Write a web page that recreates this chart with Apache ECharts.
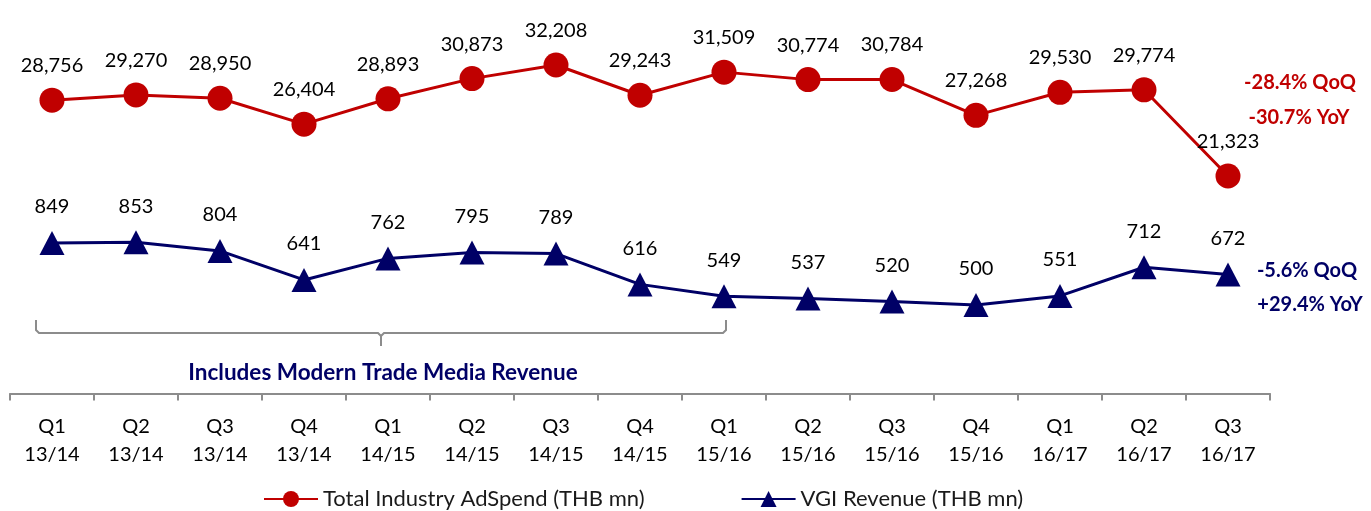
<!DOCTYPE html>
<html>
<head>
<meta charset="utf-8">
<script src="https://cdn.jsdelivr.net/npm/echarts@6/dist/echarts.min.js"></script>
<style>
  html, body { margin: 0; padding: 0; background: #fff; }
  #chart { width: 1371px; height: 511px; }
</style>
</head>
<body>
<div id="chart"></div>
<script>
// quarters (fiscal year)
const quarters = ['Q1', 'Q2', 'Q3', 'Q4', 'Q1', 'Q2', 'Q3', 'Q4', 'Q1', 'Q2', 'Q3', 'Q4', 'Q1', 'Q2', 'Q3']
const fiscalYears = ['13/14', '13/14', '13/14', '13/14', '14/15', '14/15', '14/15', '14/15',
  '15/16', '15/16', '15/16', '15/16', '16/17', '16/17', '16/17']

// THB mn
const adSpend = [28756, 29270, 28950, 26404, 28893, 30873, 32208, 29243, 31509, 30774, 30784, 27268, 29530, 29774, 21323]
const vgiRevenue = [849, 853, 804, 641, 762, 795, 789, 616, 549, 537, 520, 500, 551, 712, 672]

const RED = '#C00000'
const NAVY = '#000066'
const FONT = 'Lato, sans-serif'
const NOTE_FONT = 'bold 20px Lato, sans-serif'

const categories = quarters.map((q, i) => q + '\n' + fiscalYears[i])

const chart = echarts.init(document.getElementById('chart'), null, { renderer: 'canvas' })

const labelStyle = {
  show: true,
  position: 'top',
  color: '#000',
  fontFamily: FONT,
  fontSize: 20,
  formatter: p => p.value.toLocaleString('en-US'),
}

// bracket under the Modern Trade period
const bracketStyle = { stroke: '#8c8c8c', lineWidth: 2, fill: null }

chart.setOption({
  animation: false,
  backgroundColor: '#fff',
  grid: { left: 10, right: 101, top: 20, bottom: 115 },
  legend: {
    top: 488,
    left: 263,
    padding: 0,
    itemGap: 96,
    itemWidth: 54,
    itemHeight: 20,
    textStyle: { color: '#1a1a1a', fontFamily: FONT, fontSize: 22 },
    data: ['Total Industry AdSpend (THB mn)', 'VGI Revenue (THB mn)'],
  },
  xAxis: {
    type: 'category',
    data: categories,
    boundaryGap: true,
    axisLine: { lineStyle: { color: '#8c8c8c', width: 2 } },
    axisTick: { show: true, length: 7, lineStyle: { color: '#8c8c8c', width: 2 } },
    axisLabel: { color: '#000', fontFamily: FONT, fontSize: 20, lineHeight: 28, margin: 17, interval: 0 },
  },
  yAxis: [
    { type: 'value', show: false, min: -252, max: 36621 },
    { type: 'value', show: false, min: -11, max: 2101 },
  ],
  series: [
    {
      name: 'Total Industry AdSpend (THB mn)',
      type: 'line',
      yAxisIndex: 0,
      data: adSpend,
      symbol: 'circle',
      symbolSize: 25,
      lineStyle: { color: RED, width: 3 },
      itemStyle: { color: RED },
      label: { ...labelStyle, distance: 12 },
    },
    {
      name: 'VGI Revenue (THB mn)',
      type: 'line',
      yAxisIndex: 1,
      data: vgiRevenue,
      symbol: 'triangle',
      symbolSize: [25, 24],
      lineStyle: { color: NAVY, width: 3 },
      itemStyle: { color: NAVY },
      label: { ...labelStyle, distance: 14 },
    },
  ],
  graphic: [
    {
      type: 'polyline',
      shape: { points: [[36, 320], [36, 330], [39, 333], [378, 333], [381, 336], [381, 346]] },
      style: bracketStyle,
    },
    {
      type: 'polyline',
      shape: { points: [[381, 336], [384, 333], [723, 333], [726, 330], [726, 320]] },
      style: bracketStyle,
    },
    {
      type: 'text', x: 383, y: 373,
      style: { text: 'Includes Modern Trade Media Revenue', fill: NAVY, font: 'bold 22.5px Lato, sans-serif', align: 'center', verticalAlign: 'middle' },
    },
    {
      type: 'text', x: 1300, y: 83,
      style: { text: '-28.4% QoQ', fill: RED, font: NOTE_FONT, align: 'center', verticalAlign: 'middle' },
    },
    {
      type: 'text', x: 1299, y: 118,
      style: { text: '-30.7% YoY', fill: RED, font: NOTE_FONT, align: 'center', verticalAlign: 'middle' },
    },
    {
      type: 'text', x: 1307, y: 271,
      style: { text: '-5.6% QoQ', fill: NAVY, font: NOTE_FONT, align: 'center', verticalAlign: 'middle' },
    },
    {
      type: 'text', x: 1310, y: 305,
      style: { text: '+29.4% YoY', fill: NAVY, font: NOTE_FONT, align: 'center', verticalAlign: 'middle' },
    },
  ],
})

window.addEventListener('resize', () => chart.resize())
</script>
</body>
</html>
